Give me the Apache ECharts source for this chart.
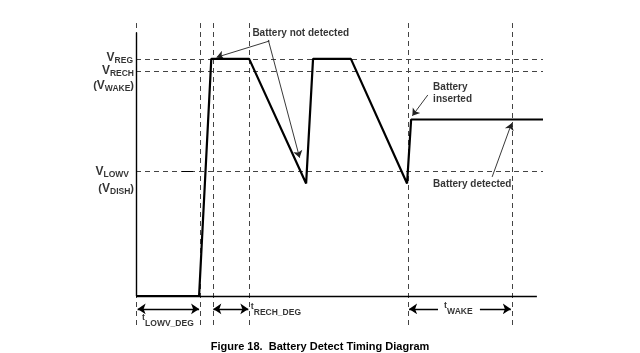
<!DOCTYPE html>
<html>
<head>
<meta charset="utf-8">
<script src="https://cdn.jsdelivr.net/npm/echarts@6/dist/echarts.min.js"></script>
<style>
html, body { margin: 0; background: #fff; }
#main { width: 640px; height: 353px; }
</style>
</head>
<body>
<div id="main"></div>
<script>
// waveform: time (arbitrary units) vs voltage (% of axis height)
const waveT = [0, 15.5, 18.5, 27.8, 41.8, 43.5, 52.8, 66.6, 67.6, 100];
const waveV = [0, 0, 90, 90, 42.7, 90, 90, 42.7, 67, 67];

// threshold levels VREG, VRECH, VLOWV
const levelV = [90, 85.4, 47.4];
// timing markers (vertical dashed)
const markT = [0, 15.7, 18.9, 27.8, 66.8, 92.4];

// level labels on the left
const levelText = ['{v|V}{s|REG}', '{v|V}{s|RECH}', '{p|(}{v|V}{s|WAKE}{p|)}', '{v|V}{s|LOWV}', '{p|(}{v|V}{s|DISH}{p|)}'];
const levelTextV = [90.6, 85.6, 79.7, 47.3, 40.6];
const levelTextGap = [3, 2, 2, 7, 2];

// timing spans
const spanFrom = [0.4, 19.0, 67.1, 84.5];
const spanTo = [15.5, 27.6, 74.2, 92.1];
const spanHeads = [['arrow', 'arrow'], ['arrow', 'arrow'], ['arrow', 'none'], ['none', 'arrow']];
const spanV = -4.9;
const spanText = ['{t|t}{s|LOWV_DEG}', '{t|t}{s|RECH_DEG}', '{t|t}{s|WAKE}'];
const spanTextT = [1.5, 28.2, 75.7];
const spanTextV = [-9.3, -5.3, -4.9];

// call-out notes and their pointers
const noteText = ['Battery not detected', 'Battery\ninserted', 'Battery detected'];
const noteT = [28.6, 73.0, 73.0];
const noteV = [99.6, 77.0, 42.5];
const pointerFrom = [[32.8, 96.8], [32.5, 97.2], [71.7, 76.3], [87.5, 45.2]];
const pointerTo = [[19.8, 90.6], [40.2, 52.5], [67.9, 68.4], [92.3, 65.6]];

const FONT = '"Liberation Sans", Arial, sans-serif';
const rich = {
    v: { fontFamily: FONT, fontWeight: 'bold', fontSize: 12, color: '#000', lineHeight: 15 },
    p: { fontFamily: FONT, fontWeight: 'bold', fontSize: 11, color: '#000', lineHeight: 15 },
    s: { fontFamily: FONT, fontWeight: 'bold', fontSize: 8.5, color: '#000', lineHeight: 15, verticalAlign: 'bottom' },
    t: { fontFamily: FONT, fontWeight: 'bold', fontSize: 9, color: '#000', lineHeight: 14, verticalAlign: 'top' }
};

const chart = echarts.init(document.getElementById('main'));
const dash = { color: '#444', width: 1, opacity: 1, type: [5, 4] };

chart.setOption({
    animation: false,
    title: {
        text: 'Figure 18.  Battery Detect Timing Diagram',
        left: 'center', top: 336,
        textStyle: { fontFamily: FONT, fontWeight: 'bold', fontSize: 11, color: '#000' }
    },
    grid: { left: 136, right: 97, top: 22, bottom: 28 },
    xAxis: { type: 'value', min: 0, max: 100, show: false },
    yAxis: { type: 'value', min: -11, max: 104, show: false },
    series: [
        {
            type: 'lines', coordinateSystem: 'cartesian2d', silent: true,
            lineStyle: dash, symbol: 'none',
            data: levelV.map(v => ({ coords: [[0, v], [100, v]] }))
                .concat(markT.map(t => ({ coords: [[t, -11], [t, 103.6]] })))
        },
        {
            type: 'lines', coordinateSystem: 'cartesian2d', silent: true,
            lineStyle: { color: '#000', width: 1.4, opacity: 1 }, symbol: 'none',
            data: [
                { coords: [[0, 0], [0, 100]] },
                { coords: [[0, 0], [98.5, 0]] },
                { coords: [[11.3, 47.4], [14.0, 47.4]], lineStyle: { width: 1 } }
            ]
        },
        {
            type: 'line', silent: true, showSymbol: false,
            lineStyle: { color: '#000', width: 2.2 },
            data: waveT.map((t, i) => [t, waveV[i]])
        },
        {
            type: 'lines', coordinateSystem: 'cartesian2d', silent: true,
            lineStyle: { color: '#000', width: 1.3, opacity: 1 }, symbolSize: 8,
            data: spanFrom.map((f, i) => ({ coords: [[f, spanV], [spanTo[i], spanV]], symbol: spanHeads[i] }))
        },
        {
            type: 'lines', coordinateSystem: 'cartesian2d', silent: true,
            lineStyle: { color: '#222', width: 0.9, opacity: 1 }, symbol: ['none', 'arrow'], symbolSize: 7,
            data: pointerFrom.map((p, i) => ({ coords: [p, pointerTo[i]] }))
        },
        {
            type: 'scatter', silent: true, symbolSize: 0,
            label: { show: true, position: 'left', align: 'right', rich },
            data: levelTextV.map((v, i) => ({ value: [0, v], label: { formatter: levelText[i], distance: levelTextGap[i] } }))
        },
        {
            type: 'scatter', silent: true, symbolSize: 0,
            label: { show: true, position: 'right', distance: 0, rich },
            data: spanTextV.map((v, i) => ({ value: [spanTextT[i], v], label: { formatter: spanText[i] } }))
        },
        {
            type: 'scatter', silent: true, symbolSize: 0,
            label: {
                show: true, position: 'right', distance: 0, align: 'left',
                fontFamily: FONT, fontWeight: 'bold', fontSize: 10, color: '#000', lineHeight: 12
            },
            data: noteV.map((v, i) => ({ value: [noteT[i], v], label: { formatter: noteText[i] } }))
        }
    ]
});
</script>
</body>
</html>
